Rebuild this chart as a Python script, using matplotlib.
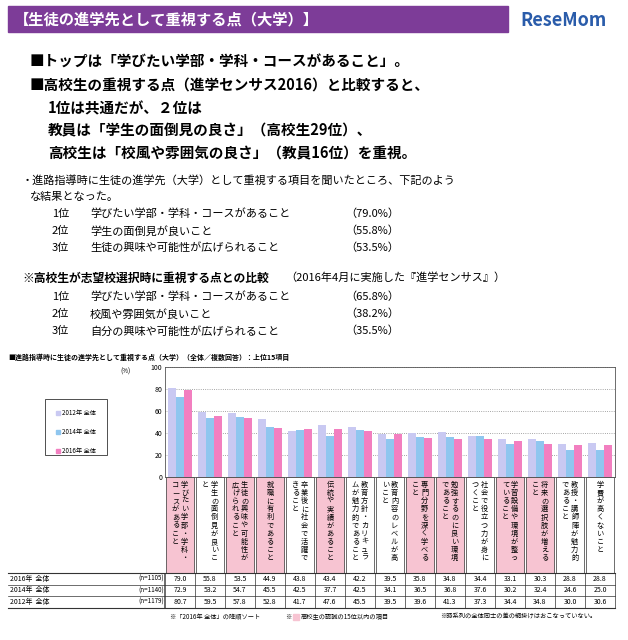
import matplotlib
matplotlib.use("Agg")
import matplotlib.pyplot as plt
from matplotlib.patches import Rectangle

plt.rcParams["font.family"] = "Noto Sans CJK JP"

# -------------------------------------------------
# Data
# -------------------------------------------------
labels = [
    "学びたい学部・学科・コースがあること",
    "学生の面倒見が良いこと",
    "生徒の興味や可能性が広げられること",
    "就職に有利であること",
    "卒業後に社会で活躍できること",
    "伝統や実績があること",
    "教育方針・カリキュラムが魅力的であること",
    "教育内容のレベルが高いこと",
    "専門分野を深く学べること",
    "勉強するのに良い環境であること",
    "社会で役立つ力が身につくこと",
    "学習設備や環境が整っていること",
    "将来の選択肢が増えること",
    "教授・講師陣が魅力的であること",
    "学費が高くないこと",
]
highlight = [1, 0, 1, 1, 0, 1, 0, 0, 1, 1, 0, 1, 1, 0, 0]
v2016 = [79.0, 55.8, 53.5, 44.9, 43.8, 43.4, 42.2, 39.5, 35.8, 34.8, 34.4, 33.1, 30.3, 28.8, 28.8]
v2014 = [72.9, 53.2, 54.7, 45.5, 42.5, 37.7, 42.5, 34.1, 36.5, 36.8, 37.6, 30.2, 32.4, 24.6, 25.0]
v2012 = [80.7, 59.5, 57.8, 52.8, 41.7, 47.6, 45.5, 39.5, 39.6, 41.3, 37.3, 34.4, 34.8, 30.0, 30.6]
series = [("2012年 全体", v2012, "#c9c9f2"),
          ("2014年 全体", v2014, "#8fc6ef"),
          ("2016年 全体", v2016, "#f27fc0")]
table_rows = [("2016年  全体", "(n=1105)", v2016),
              ("2014年  全体", "(n=1140)", v2014),
              ("2012年  全体", "(n=1179)", v2012)]

W, H = 628, 640
fig = plt.figure(figsize=(W / 100, H / 100), dpi=100)


def fy(py):
    return 1 - py / H


def ftext(px, py, s, **kw):
    fig.text(px / W, fy(py), s, **kw)


# -------------------------------------------------
# Header
# -------------------------------------------------
fig.patches.append(Rectangle((8 / W, fy(32)), 500 / W, 26 / H, transform=fig.transFigure,
                             color="#7d3c98"))
ftext(14, 19, "【生徒の進学先として重視する点（大学）】", color="white", fontsize=11,
      fontweight="bold", va="center")
ftext(520, 20, "ReseMom", color="#2a5caa", fontsize=13, fontweight="bold", va="center",
      style="italic")

bold_lines = [
    (30, 62, "■トップは「学びたい学部・学科・コースがあること」。"),
    (30, 86, "■高校生の重視する点（進学センサス2016）と比較すると、"),
    (48, 108, "1位は共通だが、２位は"),
    (48, 130, "教員は「学生の面倒見の良さ」（高校生29位）、"),
    (48, 153, "高校生は「校風や雰囲気の良さ」（教員16位）を重視。"),
]
for px, py, s in bold_lines:
    ftext(px, py, s, fontsize=10.5, fontweight="bold", va="center")

ftext(22, 180, "・進路指導時に生徒の進学先（大学）として重視する項目を聞いたところ、下記のよう", fontsize=8, va="center")
ftext(30, 197, "な結果となった。", fontsize=8, va="center")
rank1 = [("1位", "学びたい学部・学科・コースがあること", "（79.0%）"),
         ("2位", "学生の面倒見が良いこと", "（55.8%）"),
         ("3位", "生徒の興味や可能性が広げられること", "（53.5%）")]
for i, (r, s, p) in enumerate(rank1):
    y = 214 + i * 17
    ftext(52, y, r, fontsize=8, va="center")
    ftext(90, y, s, fontsize=8, va="center")
    ftext(345, y, p, fontsize=8, va="center")
ftext(22, 278, "※高校生が志望校選択時に重視する点との比較", fontsize=8.5, fontweight="bold", va="center")
ftext(285, 278, "（2016年4月に実施した『進学センサス』）", fontsize=8, va="center")
rank2 = [("1位", "学びたい学部・学科・コースがあること", "（65.8%）"),
         ("2位", "校風や雰囲気が良いこと", "（38.2%）"),
         ("3位", "自分の興味や可能性が広げられること", "（35.5%）")]
for i, (r, s, p) in enumerate(rank2):
    y = 297 + i * 17
    ftext(52, y, r, fontsize=8, va="center")
    ftext(90, y, s, fontsize=8, va="center")
    ftext(345, y, p, fontsize=8, va="center")

ftext(8, 357, "■進路指導時に生徒の進学先として重視する点（大学）（全体／複数回答）：上位15項目",
      fontsize=5, fontweight="bold", va="center")

# -------------------------------------------------
# Bar chart
# -------------------------------------------------
ax_l, ax_r, ax_t, ax_b = 165, 615, 367, 477
ax = fig.add_axes([ax_l / W, fy(ax_b), (ax_r - ax_l) / W, (ax_b - ax_t) / H])
n = len(labels)
bw = 0.26
for k, (name, vals, col) in enumerate(series):
    ax.bar([i + (k - 1) * bw for i in range(n)], vals, width=bw, color=col, label=name)
ax.set_xlim(-0.5, n - 0.5)
ax.set_ylim(0, 100)
ax.set_yticks(range(0, 101, 20))
ax.tick_params(axis="y", labelsize=5, length=0, pad=2)
ax.set_xticks([])
ax.yaxis.grid(True, linestyle=":", color="#888888", linewidth=0.6)
ax.set_axisbelow(True)
for sp in ax.spines.values():
    sp.set_linewidth(0.6)
    sp.set_color("#555555")
ftext(120, 372, "(%)", fontsize=4.5, va="center")

# legend
fig.patches.append(Rectangle((45 / W, fy(455)), 62 / W, 56 / H, transform=fig.transFigure,
                             fill=False, edgecolor="#333333", linewidth=0.6))
for k, (name, vals, col) in enumerate(series):
    y = 413 + k * 19
    fig.patches.append(Rectangle((56 / W, fy(y + 2)), 4 / W, 4 / H, transform=fig.transFigure,
                                 color=col))
    ftext(62, y, name, fontsize=4.5, va="center")

# vertical labels
trans = ax.get_xaxis_transform()
ah = ax_b - ax_t
lab_bot = 573
for i, lab in enumerate(labels):
    y0 = -(lab_bot - ax_b) / ah
    ax.add_patch(Rectangle((i - 0.46, y0), 0.92, -y0, transform=trans, clip_on=False,
                           facecolor="#f7c4d2" if highlight[i] else "white",
                           edgecolor="#333333", linewidth=0.5))
    cols = [lab[j:j + 10] for j in range(0, len(lab), 10)]
    for c, chunk in enumerate(cols):
        xoff = 0.15 - 0.3 * c if len(cols) > 1 else 0.0
        ax.text(i + xoff, -4 / ah, "\n".join(chunk), transform=trans, clip_on=False,
                ha="center", va="top", fontsize=5.2, linespacing=1.02)

# table
row_h = 11.5
for r, (name, nlabel, vals) in enumerate(table_rows):
    yc = lab_bot + row_h * (r + 0.5)
    ftext(10, yc, name, fontsize=5, va="center")
    ftext(138, yc, nlabel, fontsize=4.5, va="center")
    for i, v in enumerate(vals):
        ax.text(i, -(yc - ax_b) / ah, f"{v:.1f}", transform=trans, clip_on=False,
                ha="center", va="center", fontsize=5)
for r in range(4):
    yy = lab_bot + row_h * r
    fig.add_artist(plt.Line2D([8 / W, ax_r / W], [fy(yy), fy(yy)], color="#333333",
                              linewidth=0.8 if r in (0, 3) else 0.5))
for i in range(n + 1):
    xx = ax_l + (ax_r - ax_l) * i / n
    fig.add_artist(plt.Line2D([xx / W, xx / W], [fy(lab_bot), fy(lab_bot + 3 * row_h)],
                              color="#333333", linewidth=0.5))
fig.add_artist(plt.Line2D([ax_l / W - 0.002] * 2, [fy(lab_bot), fy(lab_bot + 3 * row_h)],
                          color="#333333", linewidth=0.5))

ftext(170, 617, "※「2016年 全体」の降順ソート", fontsize=4.5, va="center")
ftext(285, 617, "※", fontsize=4.5, va="center")
fig.patches.append(Rectangle((293 / W, fy(620)), 6 / W, 6 / H, transform=fig.transFigure,
                             color="#f7c4d2"))
ftext(301, 617, "高校生の認識の15位以内の項目", fontsize=4.5, va="center")
ftext(440, 617, "※時系列の全体同士の差の網掛けはおこなっていない。", fontsize=4.5, va="center")

fig.savefig("out.png", dpi=100)
